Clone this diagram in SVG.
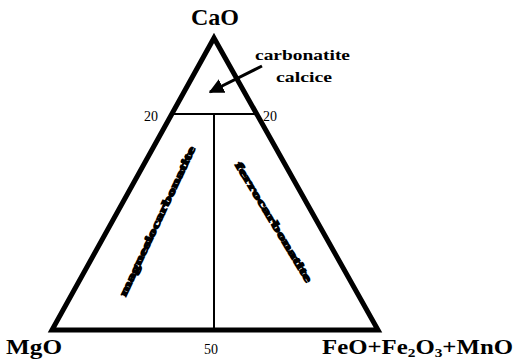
<svg xmlns="http://www.w3.org/2000/svg" width="516" height="361" viewBox="0 0 516 361">
<style>
.lbl{font-family:"Liberation Serif","DejaVu Serif",serif;font-weight:bold;fill:#000}
.num{font-family:"Liberation Serif","DejaVu Serif",serif;font-size:14px;fill:#000}
.rot{font-family:"Liberation Serif","DejaVu Serif",serif;font-weight:bold;font-size:11px;fill:#000;stroke:#000;stroke-width:1.2}
.thick{fill:none;stroke:#000;stroke-width:5;stroke-linejoin:miter}
.thin{fill:none;stroke:#000;stroke-width:2}
</style>
<defs>
<marker id="ah" viewBox="0 0 10 10" refX="9" refY="5" markerWidth="5" markerHeight="5" orient="auto" markerUnits="strokeWidth">
<path d="M0,0 L10,5 L0,10 z" fill="#000"/>
</marker>
</defs>
<rect width="516" height="361" fill="#fff"/>
<g id="triangle">
<polygon class="thick" points="214,38 378,330 52,330"/>
</g>
<g id="connectors">
<line class="thin" x1="173" y1="114" x2="255" y2="114"/>
<line class="thin" x1="214" y1="114" x2="214" y2="329"/>
<line x1="262" y1="66" x2="210" y2="92" stroke="#000" stroke-width="3" marker-end="url(#ah)"/>
</g>
<g id="labels">
<text class="lbl" x="215" y="25" font-size="24" text-anchor="middle">CaO</text>
<text class="lbl" x="6" y="354" font-size="21" textLength="56" lengthAdjust="spacingAndGlyphs">MgO</text>
<text class="lbl" x="322" y="354" font-size="21" textLength="191" lengthAdjust="spacingAndGlyphs">FeO+Fe<tspan font-size="13" dy="3">2</tspan><tspan dy="-3">O</tspan><tspan font-size="13" dy="3">3</tspan><tspan dy="-3">+MnO</tspan></text>
<text class="num" x="144" y="121">20</text>
<text class="num" x="263" y="121">20</text>
<text class="num" x="204" y="354">50</text>
</g>
<g id="calcice">
<text class="lbl" x="255" y="60" font-size="15" textLength="95" lengthAdjust="spacingAndGlyphs">carbonatite</text>
<text class="lbl" x="276" y="82" font-size="15" textLength="56" lengthAdjust="spacingAndGlyphs">calcice</text>
</g>
<g id="magnesio">
<text class="rot" transform="translate(157,221) rotate(-64.8)" x="-82" y="4" textLength="164" lengthAdjust="spacingAndGlyphs">magnesiocarbonatite</text>
</g>
<g id="ferro">
<text class="rot" transform="translate(274,222) rotate(58.8)" x="-69" y="4" textLength="138" lengthAdjust="spacingAndGlyphs">ferrocarbonatite</text>
</g>
</svg>
